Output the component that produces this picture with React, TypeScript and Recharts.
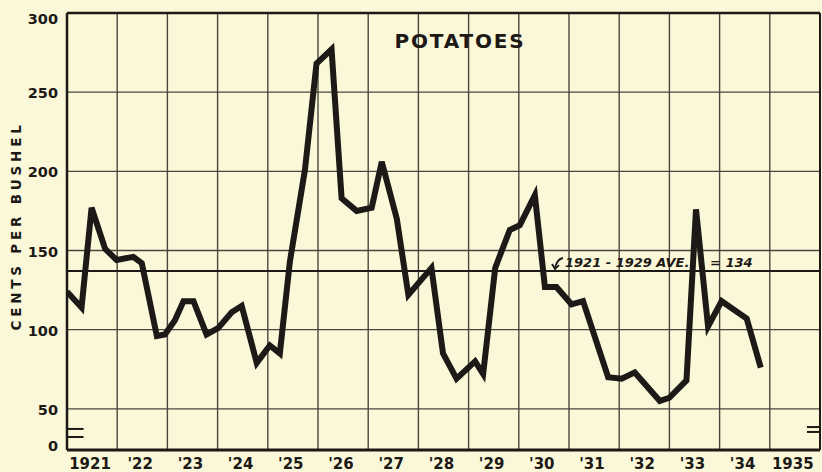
import React from 'react';
import { LineChart, Line, XAxis, YAxis, CartesianGrid, ReferenceLine, Customized } from 'recharts';

// Time of each reading (fraction of year) and farm price of potatoes, cents per bushel
const TIMES = [
  1921.0, 1921.29, 1921.49, 1921.76, 1921.99, 1922.32, 1922.49, 1922.79, 1922.95, 1923.15,
  1923.32, 1923.52, 1923.78, 1924.01, 1924.28, 1924.48, 1924.78, 1925.04, 1925.24, 1925.44,
  1925.74, 1925.97, 1926.27, 1926.47, 1926.77, 1927.07, 1927.27, 1927.57, 1927.8, 1928.26,
  1928.49, 1928.76, 1929.13, 1929.29, 1929.53, 1929.82, 1930.02, 1930.32, 1930.52, 1930.75,
  1931.05, 1931.28, 1931.78, 1932.05, 1932.31, 1932.81, 1933.0, 1933.34, 1933.53, 1933.77,
  1934.04, 1934.54, 1934.82,
];
const PRICES = [
  124, 114, 177, 151, 144, 146, 142, 96, 97, 106,
  118, 118, 97, 101, 111, 115, 79, 90, 85, 143,
  201, 268, 277, 183, 175, 177, 206, 170, 122, 139,
  85, 69, 80, 72, 139, 163, 166, 185, 127, 127,
  116, 118, 70, 69, 73, 55, 57, 68, 176, 102,
  118, 107, 76,
];

const YEAR_TICKS = [1921, 1922, 1923, 1924, 1925, 1926, 1927, 1928, 1929, 1930, 1931, 1932, 1933, 1934, 1935, 1936];
const YEAR_LABELS = ['1921', "'22", "'23", "'24", "'25", "'26", "'27", "'28", "'29", "'30", "'31", "'32", "'33", "'34", '1935', ''];
const AXIS_BREAK = 24; // bottom of the broken value axis, labelled 0
const PRICE_TICKS = [AXIS_BREAK, 50, 100, 150, 200, 250, 300];
const AVERAGE_LINE = 137;
const AVERAGE_TEXT = '1921 - 1929 AVE.';
const AVERAGE_VALUE_TEXT = '= 134';
const TITLE = 'POTATOES';
const Y_TITLE = 'CENTS PER BUSHEL';
const BREAK_LEFT = [37.3, 32.2];
const BREAK_RIGHT = [38.5, 35.4];

const data = TIMES.map((t, i) => ({ t, price: PRICES[i] }));

const INK = '#1c1916';
const GRID = '#4a463f';
const BG = '#fbf8da';
const FONT = '"DejaVu Sans", "Liberation Sans", sans-serif';

const YTick = (props: any) => {
  const { y, payload } = props;
  const v = payload.value;
  const dy = v === 300 ? 6 : v === AXIS_BREAK ? -4 : 1;
  return (
    <text x={58} y={y + dy} textAnchor="end" dominantBaseline="central" fontFamily={FONT} fontWeight="bold" fontSize={14.5} fill={INK}>
      {v === AXIS_BREAK ? '0' : String(v)}
    </text>
  );
};

const XTick = (props: any) => {
  const { x, payload } = props;
  const idx = YEAR_TICKS.indexOf(payload.value);
  const label = idx >= 0 ? YEAR_LABELS[idx] : '';
  if (!label) return null;
  return (
    <text x={x + 23} y={464} textAnchor="middle" dominantBaseline="central" fontFamily={FONT} fontWeight="bold" fontSize={15} fill={INK}>
      {label}
    </text>
  );
};

const AverageLabel = (props: any) => {
  const vb = props.viewBox || {};
  const x0 = vb.x ?? 67;
  const y0 = vb.y ?? 271;
  return (
    <g>
      <path d={`M ${x0 + 496} ${y0 - 13} Q ${x0 + 490} ${y0 - 12} ${x0 + 488} ${y0 - 3}`} stroke={INK} strokeWidth={2} fill="none" />
      <path d={`M ${x0 + 485} ${y0 - 7} L ${x0 + 488} ${y0 - 2} L ${x0 + 492} ${y0 - 6}`} stroke={INK} strokeWidth={1.8} fill="none" />
      <text x={x0 + 498} y={y0 - 4} fontFamily={FONT} fontWeight="bold" fontStyle="italic" fontSize={13} fill={INK}>
        {AVERAGE_TEXT}
      </text>
      <text x={x0 + 643} y={y0 - 4} fontFamily={FONT} fontWeight="bold" fontStyle="italic" fontSize={13} fill={INK}>
        {AVERAGE_VALUE_TEXT}
      </text>
    </g>
  );
};

const Decorations = () => (
  <g>
    <text x={460} y={41} textAnchor="middle" dominantBaseline="central" fontFamily={FONT} fontWeight="bold" fontSize={20} letterSpacing={1.8} fill={INK}>
      {TITLE}
    </text>
    <text
      x={16}
      y={226}
      transform="rotate(-90 16 226)"
      textAnchor="middle"
      dominantBaseline="central"
      fontFamily={FONT}
      fontWeight="bold"
      fontSize={13.5}
      letterSpacing={3.8}
      fill={INK}
    >
      {Y_TITLE}
    </text>
  </g>
);

export default function App() {
  return (
    <div style={{ position: 'fixed', left: 0, top: 0, width: 822, height: 472, background: BG, overflow: 'hidden' }}>
      <LineChart width={822} height={472} data={data} margin={{ top: 13, right: 2, left: 0, bottom: 0 }}>
        <CartesianGrid stroke={GRID} strokeWidth={1.4} />
        <XAxis
          dataKey="t"
          type="number"
          domain={[1921, 1936]}
          ticks={YEAR_TICKS}
          interval={0}
          tick={<XTick />}
          tickLine={false}
          axisLine={{ stroke: INK, strokeWidth: 3 }}
          height={22}
          allowDataOverflow
        />
        <YAxis
          type="number"
          domain={[AXIS_BREAK, 300]}
          ticks={PRICE_TICKS}
          interval={0}
          tick={<YTick />}
          tickLine={false}
          axisLine={{ stroke: INK, strokeWidth: 2.5 }}
          width={67}
          allowDataOverflow
        />
        <ReferenceLine y={300} stroke={INK} strokeWidth={2.5} />
        <ReferenceLine x={1936} stroke={INK} strokeWidth={2} />
        <ReferenceLine y={AVERAGE_LINE} stroke={INK} strokeWidth={2} label={<AverageLabel />} />
        {BREAK_LEFT.map((v) => (
          <ReferenceLine key={'l' + v} segment={[{ x: 1921, y: v }, { x: 1921.33, y: v }]} stroke={INK} strokeWidth={2} />
        ))}
        {BREAK_RIGHT.map((v) => (
          <ReferenceLine key={'r' + v} segment={[{ x: 1935.74, y: v }, { x: 1936, y: v }]} stroke={INK} strokeWidth={2} />
        ))}
        <Line
          type="linear"
          dataKey="price"
          stroke={INK}
          strokeWidth={6}
          strokeLinejoin="miter"
          dot={false}
          activeDot={false}
          isAnimationActive={false}
        />
        <Customized component={<Decorations />} />
      </LineChart>
    </div>
  );
}
